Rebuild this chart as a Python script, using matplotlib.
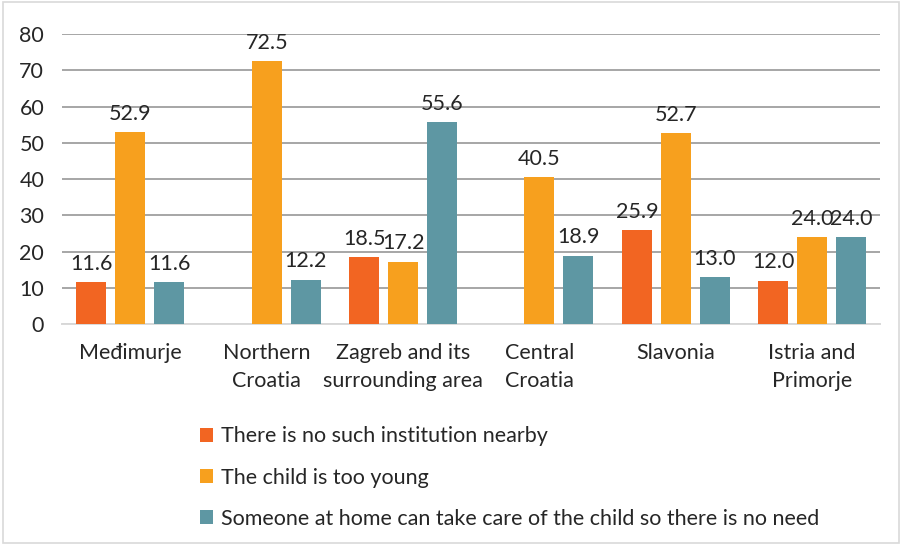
import numpy as np
import matplotlib.pyplot as plt

regions = ['Međimurje', 'Northern\nCroatia', 'Zagreb and its\nsurrounding area',
           'Central\nCroatia', 'Slavonia', 'Istria and\nPrimorje']
no_institution = [11.6, np.nan, 18.5, np.nan, 25.9, 12.0]
too_young = [52.9, 72.5, 17.2, 40.5, 52.7, 24.0]
someone_home = [11.6, 12.2, 55.6, 18.9, 13.0, 24.0]

series_names = ['There is no such institution nearby',
                'The child is too young',
                'Someone at home can take care of the child so there is no need']
colors = ['#F26522', '#F7A01E', '#5E97A3']

plt.rcParams['font.family'] = ['Lato', 'DejaVu Sans']

fig = plt.figure(figsize=(9.02, 5.45), dpi=100)
ax = fig.add_axes([0.069, 0.4055, 0.907, 0.532])

x = np.arange(len(regions))
step = 0.286
width = 0.22
for i, (vals, name, col) in enumerate(zip([no_institution, too_young, someone_home],
                                          series_names, colors)):
    pos = x + (i - 1) * step
    bars = ax.bar(pos, vals, width, color=col, label=name, zorder=3)
    for b, v in zip(bars, vals):
        if np.isnan(v):
            continue
        ax.annotate(f'{v:.1f}', (b.get_x() + b.get_width() / 2, v),
                    xytext=(0, 6), textcoords='offset points',
                    ha='center', va='bottom', fontsize=15.5, color='#262626')

ax.set_xlim(-0.5, len(regions) - 0.5)
ax.set_ylim(0, 80)
ax.set_yticks(range(0, 81, 10))
ax.set_xticks(x)
ax.set_xticklabels(regions, fontsize=15.5, color='#262626', linespacing=1.45)
ax.tick_params(axis='y', labelsize=15.5, labelcolor='#262626', length=0, pad=13)
ax.tick_params(axis='x', length=0, pad=14)
ax.yaxis.grid(True, color='#A6A6A6', linewidth=1.4, zorder=0)
for s in ['top', 'right', 'left']:
    ax.spines[s].set_visible(False)
ax.spines['bottom'].set_color('#D9D9D9')
ax.spines['bottom'].set_linewidth(1.4)

fig.legend(loc='upper left', bbox_to_anchor=(0.2, 0.253), frameon=False,
           fontsize=15.5, handlelength=0.6, handleheight=0.6, labelspacing=0.98,
           handletextpad=0.4, labelcolor='#262626')

fig.patches.append(plt.Rectangle((0.003, 0.003), 0.994, 0.994, transform=fig.transFigure,
                                 fill=False, edgecolor='#D9D9D9', linewidth=1.2))

fig.savefig('out.png', dpi=100)
